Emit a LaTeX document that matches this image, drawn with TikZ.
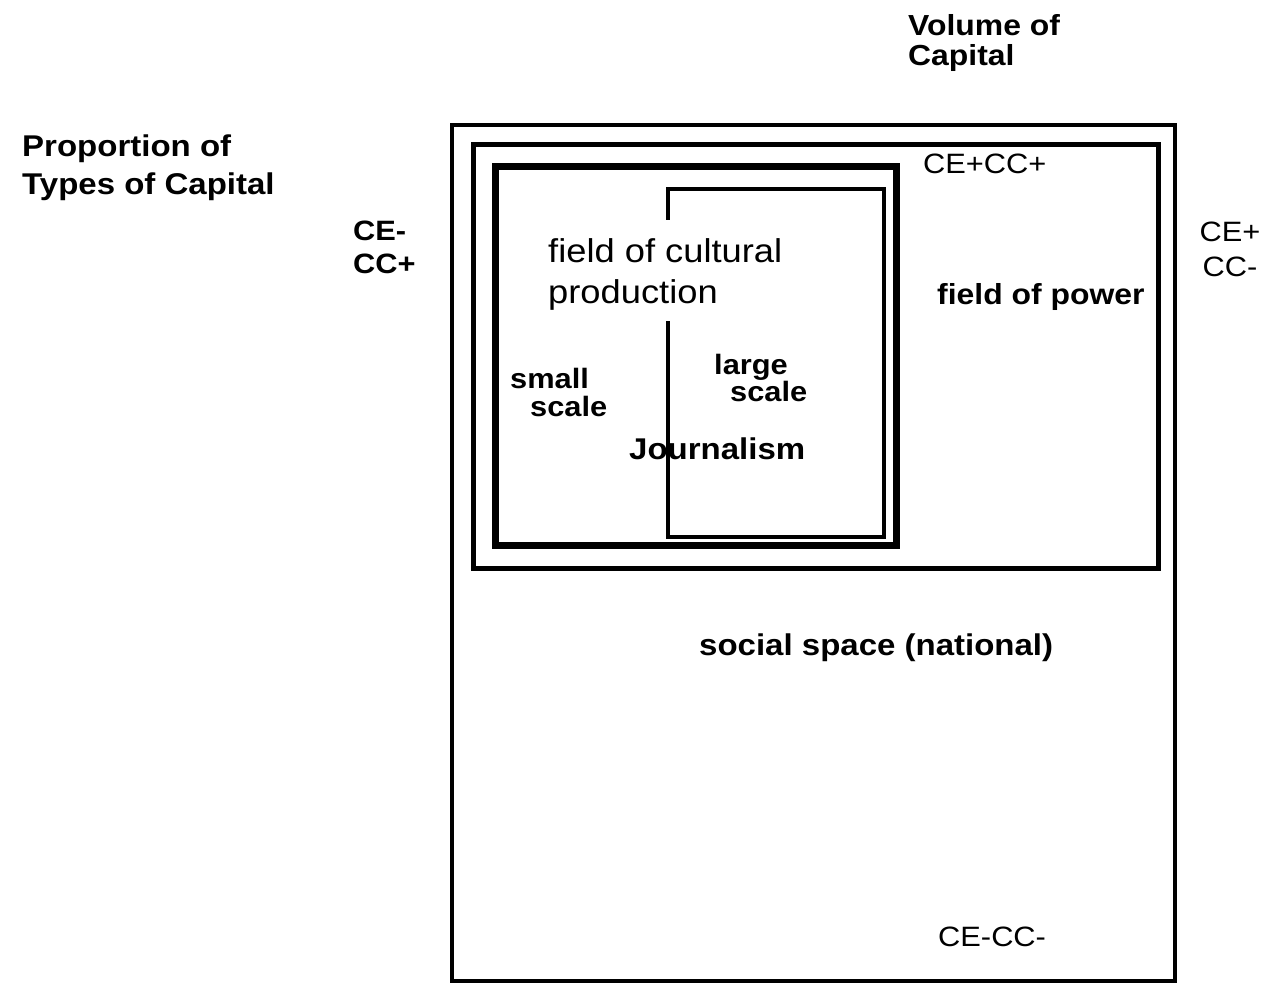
\documentclass[tikz,border=0pt]{standalone}
\usepackage{fontspec}
\setmainfont{Liberation Sans}[FakeStretch=1.1]
\usetikzlibrary{calc}
\tikzset{
  tag/.style={inner sep=0pt, align=left},
  boxline/.style={line width=#1}
}

\begin{document}
\begin{tikzpicture}[x=1pt,y=-1pt]
\useasboundingbox (0,0) rectangle (1263,984);
% nested spaces
\draw [boxline=4pt] (452,125) rectangle (1175,981);
\draw [boxline=5pt] (473,145) rectangle (1158,568);
\draw [boxline=7pt] (495,167) rectangle (896,545);
\draw [boxline=4pt] (668,220) -- (668,189) -- (884,189) -- (884,537) -- (668,537) -- (668,321);
% axes
\node [tag, anchor=west, font=\bfseries\fontsize{29}{30}\selectfont] (volume) at (908,43) {Volume of\\Capital};
\node [tag, anchor=west, font=\bfseries\fontsize{30}{38}\selectfont] (proportion) at (22,168) {Proportion of\\Types of Capital};
\node [tag, anchor=west, font=\bfseries\fontsize{28}{33}\selectfont] (ceminus) at (353,247) {CE-\\CC+};
\node [tag, align=center, font=\fontsize{28}{35}\selectfont] (ceplus) at (1230,249) {CE+\\CC-};
\node [tag, anchor=west, font=\fontsize{28}{28}\selectfont] (ceplusplus) at (923,164) {CE+CC+};
\node [tag, anchor=west, font=\fontsize{28}{28}\selectfont] (ceminusminus) at (938,937) {CE-CC-};
% fields
\node [tag, anchor=west, font=\bfseries\fontsize{29}{29}\selectfont] (power) at (937,297) {field of power};
\node [tag, anchor=west, font=\fontsize{33}{41}\selectfont] (cultural) at (548,274) {field of cultural\\production};
\node [tag, anchor=west, font=\bfseries\fontsize{28}{28}\selectfont] (small) at (510,392) {small\\\hspace*{20pt}scale};
\node [tag, anchor=west, font=\bfseries\fontsize{28}{23}\selectfont] (large) at (714,378) {large\\\hspace*{16pt}scale};
\node [tag, anchor=west, font=\bfseries\fontsize{30}{30}\selectfont] (journalism) at (629,449) {Journalism};
\node [tag, anchor=west, font=\bfseries\fontsize{30}{30}\selectfont] (social) at (699,648) {social space (national)};
\end{tikzpicture}
\end{document}
